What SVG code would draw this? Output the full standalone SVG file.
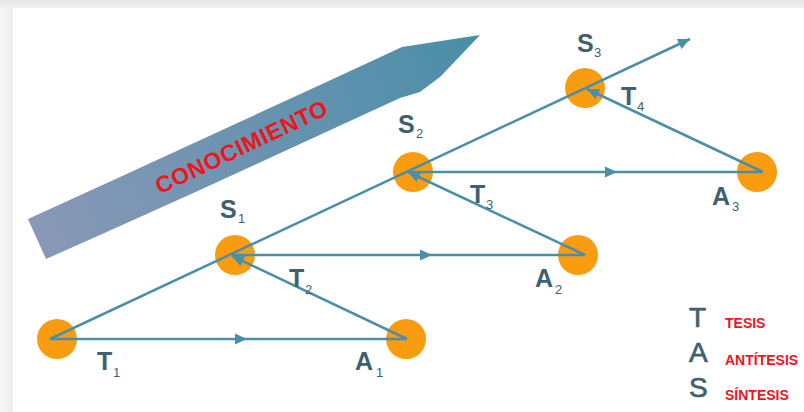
<svg xmlns="http://www.w3.org/2000/svg" width="804" height="412" viewBox="0 0 804 412">
<defs>
<linearGradient id="topShade" x1="0" y1="0" x2="0" y2="1">
<stop offset="0" stop-color="#e6e6e6"/><stop offset="1" stop-color="#f0f0f0"/>
</linearGradient>
<linearGradient id="leftShade" x1="0" y1="0" x2="1" y2="0">
<stop offset="0" stop-color="#f6f6f6"/><stop offset="1" stop-color="#eeeeee"/>
</linearGradient>
<linearGradient id="band" gradientUnits="userSpaceOnUse" x1="30" y1="240" x2="480" y2="40">
<stop offset="0" stop-color="#8a98b7"/><stop offset="1" stop-color="#4a8ea8"/>
</linearGradient>
<marker id="arr" markerWidth="13" markerHeight="12" refX="12" refY="6" orient="auto" markerUnits="userSpaceOnUse">
<path d="M0,0.5 L12,6 L0,11.5 Z" fill="#4b8ea9"/>
</marker>
</defs>
<style>
.ln{stroke:#4b8ea9;stroke-width:2.5;fill:none}
.node{fill:#f99c10}
.lb{font-family:"Liberation Sans",Arial,sans-serif;font-weight:bold;font-size:25px;fill:#40606f}
.sub{font-family:"Liberation Sans",Arial,sans-serif;font-size:13px;fill:#40606f}
.lg{font-family:"Liberation Sans",Arial,sans-serif;font-size:28px;fill:#40606f;stroke:#40606f;stroke-width:0.7}
.red{font-family:"Liberation Sans",Arial,sans-serif;font-weight:bold;font-size:14px;fill:#f0141c}
</style>
<rect x="0" y="0" width="804" height="412" fill="#ffffff"/>
<rect x="0" y="0" width="804" height="8" fill="url(#topShade)"/>
<rect x="0" y="8" width="13" height="404" fill="url(#leftShade)"/>

<g id="conocimiento">
<polygon points="28,219 120,177 220,131 320,85 402,47 480,35 463,53 440,77 420,92 400,98 300,144 200,190 100,235 46,259" fill="url(#band)"/>
<text transform="translate(245,154) rotate(-25.5)" text-anchor="middle" font-family="'Liberation Sans',Arial,sans-serif" font-weight="bold" font-size="23" fill="#f0141c" letter-spacing="0.6">CONOCIMIENTO</text>
</g>

<g id="n0"><circle class="node" cx="57" cy="339" r="20"/></g>
<g id="a1"><circle class="node" cx="406" cy="339" r="20"/></g>
<g id="s1"><circle class="node" cx="235" cy="255" r="20"/></g>
<g id="a2"><circle class="node" cx="578" cy="255" r="20"/></g>
<g id="s2"><circle class="node" cx="413" cy="172" r="20"/></g>
<g id="a3"><circle class="node" cx="757" cy="172" r="20"/></g>
<g id="s3"><circle class="node" cx="585" cy="88" r="20"/></g>

<g id="connectors">
<path class="ln" d="M50,339 L690,39" marker-end="url(#arr)"/>
<path class="ln" d="M50,339 L247,339 L407,339" marker-mid="url(#arr)"/>
<path class="ln" d="M407,339 L232,256" marker-end="url(#arr)"/>
<path class="ln" d="M232,255 L432,255 L585,255" marker-mid="url(#arr)"/>
<path class="ln" d="M585,255 L408,172" marker-end="url(#arr)"/>
<path class="ln" d="M408,172 L617,172 L763,172" marker-mid="url(#arr)"/>
<path class="ln" d="M763,172 L587,89" marker-end="url(#arr)"/>
</g>

<g id="labels">
<text class="lb" x="220" y="218">S</text><text class="sub" x="238" y="223">1</text>
<text class="lb" x="398" y="133">S</text><text class="sub" x="416" y="138">2</text>
<text class="lb" x="577" y="52">S</text><text class="sub" x="594" y="57">3</text>
<text class="lb" x="97" y="370">T</text><text class="sub" x="113" y="377">1</text>
<text class="lb" x="355" y="370">A</text><text class="sub" x="376" y="377">1</text>
<text class="lb" x="289" y="287">T</text><text class="sub" x="305" y="294">2</text>
<text class="lb" x="535" y="287">A</text><text class="sub" x="555" y="294">2</text>
<text class="lb" x="470" y="203">T</text><text class="sub" x="486" y="209">3</text>
<text class="lb" x="712" y="205">A</text><text class="sub" x="732" y="211">3</text>
<text class="lb" x="621" y="105">T</text><text class="sub" x="637" y="111">4</text>
</g>

<g id="legend">
<text class="lg" x="689" y="327">T</text>
<text class="lg" x="689" y="362">A</text>
<text class="lg" x="689" y="397">S</text>
<text class="red" x="725" y="328" font-size="11.5">TESIS</text>
<text class="red" x="725" y="365">ANTÍTESIS</text>
<text class="red" x="725" y="400">SÍNTESIS</text>
</g>
</svg>
